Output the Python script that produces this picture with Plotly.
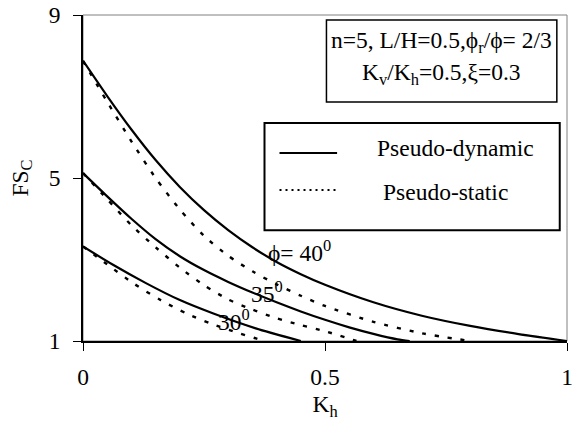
import plotly.graph_objects as go

# ---- data ----
kh_40_dyn = [0, 0.05, 0.10, 0.15, 0.20, 0.25, 0.30, 0.35, 0.40, 0.45, 0.50, 0.60, 0.70, 0.80, 0.90, 1.0]
fs_40_dyn = [7.88, 7.01, 6.19, 5.44, 4.78, 4.21, 3.72, 3.30, 2.94, 2.64, 2.38, 1.95, 1.62, 1.37, 1.17, 1.0]

kh_40_sta = [0, 0.05, 0.10, 0.15, 0.20, 0.25, 0.30, 0.35, 0.40, 0.45, 0.50, 0.60, 0.70, 0.80]
fs_40_sta = [7.87, 6.87, 5.90, 5.00, 4.23, 3.58, 3.09, 2.71, 2.39, 2.11, 1.86, 1.47, 1.19, 1.0]

kh_35_dyn = [0, 0.05, 0.10, 0.15, 0.20, 0.25, 0.30, 0.35, 0.40, 0.45, 0.50, 0.55, 0.60, 0.65, 0.675]
fs_35_dyn = [5.12, 4.55, 4.00, 3.50, 3.08, 2.74, 2.45, 2.19, 1.95, 1.725, 1.52, 1.335, 1.175, 1.04, 1.0]

kh_35_sta = [0, 0.05, 0.10, 0.15, 0.20, 0.25, 0.30, 0.35, 0.40, 0.45, 0.50, 0.565]
fs_35_sta = [5.12, 4.48, 3.84, 3.30, 2.80, 2.37, 2.02, 1.77, 1.56, 1.39, 1.24, 1.0]

kh_30_dyn = [0, 0.062, 0.130, 0.199, 0.268, 0.357, 0.45]
fs_30_dyn = [3.32, 2.87, 2.42, 2.01, 1.68, 1.31, 1.0]

kh_30_sta = [0, 0.05, 0.106, 0.161, 0.213, 0.264, 0.322, 0.353, 0.375]
fs_30_sta = [3.32, 2.88, 2.40, 2.00, 1.68, 1.43, 1.19, 1.08, 1.0]

x_ticks = [0, 0.5, 1]
x_tick_labels = ["0", "0.5", "1"]
y_ticks = [1, 5, 9]
y_tick_labels = ["1", "5", "9"]

curve_labels = ["ϕ= 40<sup>0</sup>", "35<sup>0</sup>", "30<sup>0</sup>"]
label_pos = [(0.378, 3.22), (0.343, 2.21), (0.274, 1.52)]

legend_names = ["Pseudo-dynamic", "Pseudo-static"]
info_lines = ["n=5, L/H=0.5,ϕ<sub>r</sub>/ϕ= 2/3", "K<sub>v</sub>/K<sub>h</sub>=0.5,ξ=0.3"]

FONT = "Liberation Serif, Times New Roman, serif"
FS = 23.5

fig = go.Figure()
solid = dict(color="black", width=2.2)
dotted = dict(color="black", width=2.4, dash="4px,9px")

for kx, ky in [(kh_40_dyn, fs_40_dyn), (kh_35_dyn, fs_35_dyn), (kh_30_dyn, fs_30_dyn)]:
    fig.add_trace(go.Scatter(x=kx, y=ky, mode="lines", line=dict(shape="spline", smoothing=0.7, **solid),
                             name=legend_names[0], showlegend=False))
for kx, ky in [(kh_40_sta, fs_40_sta), (kh_35_sta, fs_35_sta), (kh_30_sta, fs_30_sta)]:
    fig.add_trace(go.Scatter(x=kx, y=ky, mode="lines", line=dict(shape="spline", smoothing=0.7, **dotted),
                             name=legend_names[1], showlegend=False))

# plot frame (thin grey on top/right)
fig.add_shape(type="rect", xref="paper", yref="paper", x0=0, y0=0, x1=1, y1=1,
              line=dict(color="#808080", width=1), layer="below")

# info box
fig.add_shape(type="rect", xref="paper", yref="paper", x0=0.503, y0=0.733, x1=0.979, y1=0.985,
              line=dict(color="black", width=1.5), fillcolor="white")
for txt, yy in zip(info_lines, [0.918, 0.818]):
    fig.add_annotation(text=txt, xref="paper", yref="paper", x=0.74, y=yy, showarrow=False,
                       xanchor="center", yanchor="middle", font=dict(family=FONT, size=FS, color="black"))

# legend box drawn as in the reference
fig.add_shape(type="rect", xref="paper", yref="paper", x0=0.375, y0=0.340, x1=0.985, y1=0.669,
              line=dict(color="black", width=2), fillcolor="white")
fig.add_shape(type="line", xref="paper", yref="paper", x0=0.406, x1=0.525, y0=0.577, y1=0.577,
              line=dict(color="black", width=2))
fig.add_shape(type="line", xref="paper", yref="paper", x0=0.406, x1=0.525, y0=0.463, y1=0.463,
              line=dict(color="black", width=2, dash="2px,4px"))
fig.add_annotation(text=legend_names[0], xref="paper", yref="paper", x=0.604, y=0.592, showarrow=False,
                   xanchor="left", yanchor="middle", font=dict(family=FONT, size=FS, color="black"))
fig.add_annotation(text=legend_names[1], xref="paper", yref="paper", x=0.616, y=0.457, showarrow=False,
                   xanchor="left", yanchor="middle", font=dict(family=FONT, size=FS, color="black"))

for txt, (lx, ly) in zip(curve_labels, label_pos):
    fig.add_annotation(text=txt, x=lx, y=ly, showarrow=False, xanchor="left", yanchor="middle",
                       font=dict(family=FONT, size=FS, color="black"))

fig.update_layout(
    width=579, height=426,
    margin=dict(l=83, r=12, t=15, b=85, autoexpand=False),
    paper_bgcolor="white", plot_bgcolor="white",
    font=dict(family=FONT, size=FS, color="black"),
    showlegend=False,
)
fig.update_xaxes(range=[0, 1], tickvals=x_ticks, ticktext=x_tick_labels, showgrid=False, zeroline=False,
                 showline=True, linecolor="black", linewidth=2, ticks="outside", ticklen=8, tickwidth=1,
                 tickcolor="black", ticklabelstandoff=6, automargin=False,
                 title=dict(text="K<sub>h</sub>", standoff=6, font=dict(family=FONT, size=FS)))
fig.update_yaxes(range=[1, 9], tickvals=y_ticks, ticktext=y_tick_labels, showgrid=False, zeroline=False,
                 showline=True, linecolor="black", linewidth=1.5, ticks="outside", ticklen=8, tickwidth=1,
                 tickcolor="black", ticklabelstandoff=8, automargin=False,
                 title=dict(text="FS<sub>C</sub>", standoff=14, font=dict(family=FONT, size=FS)))

fig.write_html("out.html", config={"displayModeBar": False},
               post_script="document.body.style.margin='0';document.body.style.overflow='hidden';")
